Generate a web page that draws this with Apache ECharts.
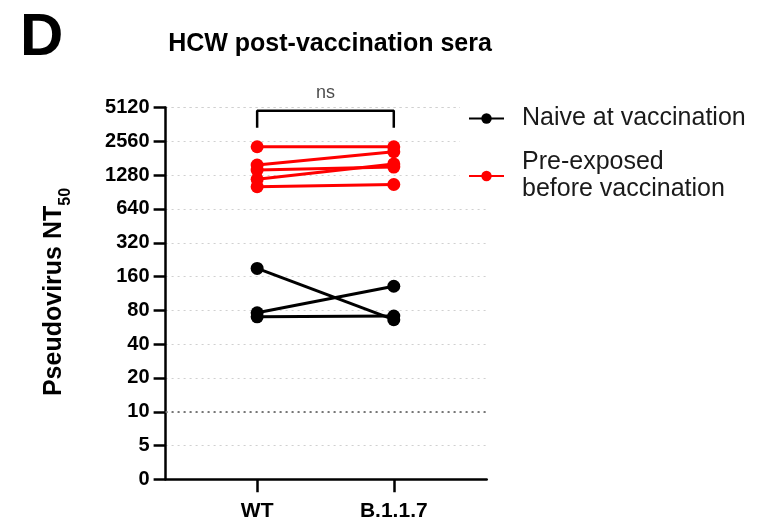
<!DOCTYPE html>
<html>
<head>
<meta charset="utf-8">
<script src="https://cdn.jsdelivr.net/npm/echarts@6/dist/echarts.min.js"></script>
<style>
  html, body { margin: 0; padding: 0; background: #fff; }
  #chart { width: 764px; height: 526px; }
</style>
</head>
<body>
<div id="chart"></div>
<script>
// categories on the x axis
var variants = ['WT', 'B.1.1.7'];
// y tick labels (log2 axis, bottom tick shown as 0)
var yTicks = [0, 5, 10, 20, 40, 80, 160, 320, 640, 1280, 2560, 5120];

// paired NT50 values, one pair per donor
var naiveWT    = [189, 76, 70];
var naiveB117  = [66, 131, 71];
var preWT      = [2290, 1575, 1420, 1175, 1010];
var preB117    = [2290, 2070, 1510, 1610, 1055];

var limitOfDetection = 10;
var naiveName = 'Naive at vaccination';
var preName = 'Pre-exposed\nbefore vaccination';

var FONT = '"Liberation Sans", Arial, sans-serif';

function pairSeries(name, color, a, b) {
    var list = [];
    for (var i = 0; i < a.length; i++) {
        list.push({
            name: name,
            type: 'line',
            symbol: 'circle',
            symbolSize: 13,
            lineStyle: { color: color, width: 3 },
            itemStyle: { color: color },
            silent: true,
            z: color === '#000' ? 3 : 4,
            data: [[0, a[i]], [1, b[i]]]
        });
    }
    return list;
}

var series = [].concat(
    pairSeries(naiveName, '#000', naiveWT, naiveB117),
    pairSeries(preName, '#ff0000', preWT, preB117)
);

// significance bracket between WT and B.1.1.7
series.push({
    type: 'line',
    symbol: 'none',
    silent: true,
    lineStyle: { color: '#000', width: 2.5 },
    data: [[0, 3380], [0, 4800], [1, 4800], [1, 3380]],
    markLine: {
        silent: true,
        symbol: 'none',
        label: { show: false },
        lineStyle: { color: '#777', type: [2, 4], width: 2 },
        data: [{ yAxis: limitOfDetection }]
    }
});
series.push({
    type: 'scatter',
    symbolSize: 0,
    silent: true,
    label: {
        show: true, position: 'top', distance: 9,
        formatter: 'ns', fontFamily: FONT, fontSize: 18, color: '#1a1a1a'
    },
    data: [[0.5, 4800]]
});

var chart = echarts.init(document.getElementById('chart'));
chart.setOption({
    animation: false,
    backgroundColor: '#fff',
    title: {
        text: 'HCW post-vaccination sera',
        left: 325, top: 27,
        textAlign: 'center',
        textStyle: { fontFamily: FONT, fontSize: 25, fontWeight: 'bold', color: '#000' }
    },
    legend: {
        orient: 'vertical',
        left: 460, top: 101,
        padding: [4, 8, 4, 8],
        backgroundColor: '#fff',
        itemWidth: 35,
        itemHeight: 13,
        itemGap: 17,
        data: [naiveName, preName],
        textStyle: { fontFamily: FONT, fontSize: 25, color: '#1a1a1a', padding: [0, 0, 0, 13], lineHeight: 27 }
    },
    grid: { left: 165.6, right: 277.3, top: 107.5, bottom: 46.7 },
    xAxis: {
        type: 'value',
        min: -0.67, max: 1.68,
        splitLine: { show: false },
        axisLine: { onZero: false, lineStyle: { color: '#000', width: 2.5 } },
        axisTick: { show: true, customValues: [0, 1], length: 13, lineStyle: { color: '#000', width: 2.5 } },
        axisLabel: {
            customValues: [0, 1],
            margin: 21,
            fontFamily: FONT, fontSize: 21, fontWeight: 'bold', color: '#000',
            formatter: function (v) { return variants[Math.round(v)]; }
        }
    },
    yAxis: {
        type: 'log',
        logBase: 2,
        min: 2.5, max: 5120,
        interval: 1,
        axisLine: { show: true, onZero: false, lineStyle: { color: '#000', width: 2.5 } },
        axisTick: { show: true, length: 12, lineStyle: { color: '#000', width: 2.5 } },
        splitLine: { show: true, lineStyle: { color: '#d0d0d0', type: [2, 4], width: 1 } },
        axisLabel: {
            margin: 16,
            fontFamily: FONT, fontSize: 20, fontWeight: 'bold', color: '#000',
            formatter: function (v) {
                var k = Math.round(Math.log2(v / 2.5));
                return String(yTicks[k]);
            }
        }
    },
    graphic: [
        {
            type: 'text', left: 20, top: 8,
            style: { text: 'D', fontFamily: FONT, fontSize: 60, fontWeight: 'bold', fill: '#000' }
        },
        {
            type: 'text', x: 58, y: 292, rotation: Math.PI / 2,
            style: {
                text: '{a|Pseudovirus NT}{s|50}',
                align: 'center', verticalAlign: 'middle',
                rich: {
                    a: { fontFamily: FONT, fontSize: 25, fontWeight: 'bold', fill: '#000', lineHeight: 32, verticalAlign: 'top' },
                    s: { fontFamily: FONT, fontSize: 16, fontWeight: 'bold', fill: '#000', lineHeight: 32, verticalAlign: 'bottom' }
                }
            }
        }
    ],
    series: series
});
</script>
</body>
</html>
